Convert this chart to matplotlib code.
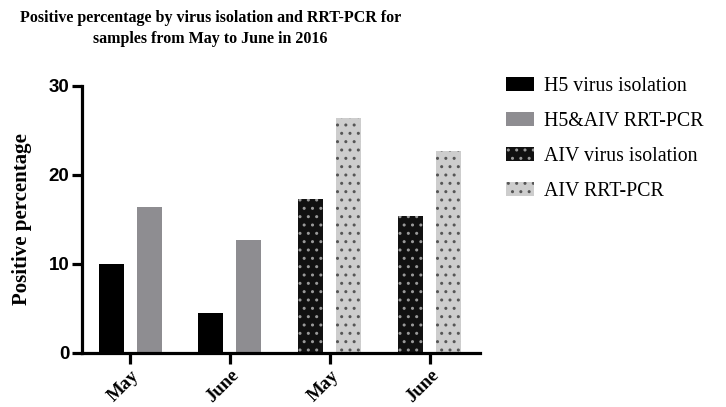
import numpy as np
import matplotlib
matplotlib.use("Agg")
import matplotlib.pyplot as plt

# datos
meses = ["May", "June"]
h5_aislamiento = [10.0, 4.5]
h5_aiv_rrtpcr = [16.35, 12.7]
aiv_aislamiento = [17.25, 15.4]
aiv_rrtpcr = [26.4, 22.7]
etiquetas_x = meses + meses
nombres = ["H5 virus isolation", "H5&AIV RRT-PCR", "AIV virus isolation", "AIV RRT-PCR"]

serif = "Liberation Serif"
sans = "Liberation Sans"

fig = plt.figure(figsize=(7.26, 4.07), dpi=100)
ax = fig.add_axes([0.113, 0.1327, 0.548, 0.656])

pos = np.arange(len(etiquetas_x))
ancho = 0.25
desp = 0.19

b1 = ax.bar(pos[:2] - desp, h5_aislamiento, ancho, color="black", linewidth=0,
            label=nombres[0])
b2 = ax.bar(pos[:2] + desp, h5_aiv_rrtpcr, ancho, color="#8e8d91", linewidth=0,
            label=nombres[1])
b3 = ax.bar(pos[2:] - desp, aiv_aislamiento, ancho, facecolor="#111111",
            edgecolor="#9a9a9a", hatch="..", linewidth=0, label=nombres[2])
b4 = ax.bar(pos[2:] + desp, aiv_rrtpcr, ancho, facecolor="#cdcdcd",
            edgecolor="#555555", hatch="..", linewidth=0, label=nombres[3])

ax.set_xlim(-0.48, 3.5)
ax.set_ylim(0, 30)
ax.set_yticks([0, 10, 20, 30])

for lado in ["top", "right"]:
    ax.spines[lado].set_visible(False)
for lado in ["left", "bottom"]:
    ax.spines[lado].set_linewidth(2.3)

ax.tick_params(axis="y", length=7, width=2.3, pad=2)
ax.tick_params(axis="x", length=8, width=2.3, pad=2)

ax.set_xticks(pos)
ax.set_xticklabels(etiquetas_x, rotation=45, ha="right", rotation_mode="anchor",
                   fontfamily=serif, fontweight="bold", fontsize=13.5)
for t in ax.get_yticklabels():
    t.set_fontfamily(sans)
    t.set_fontweight("bold")
    t.set_fontsize(13.5)

ax.set_ylabel("Positive percentage", fontfamily=serif, fontweight="bold",
              fontsize=15, labelpad=12)

fig.text(0.29, 0.93, "Positive percentage by virus isolation and RRT-PCR for\n"
         "samples from May to June in 2016", ha="center", va="center",
         fontfamily=serif, fontweight="bold", fontsize=11.5, linespacing=1.45)

fig.legend(handles=[b1, b2, b3, b4], loc="upper left",
           bbox_to_anchor=(0.686, 0.83), frameon=False,
           prop={"family": serif, "size": 14.3},
           handlelength=1.4, handleheight=0.7, handletextpad=0.5,
           labelspacing=0.8, borderaxespad=0)

fig.savefig("out.png", dpi=100)
